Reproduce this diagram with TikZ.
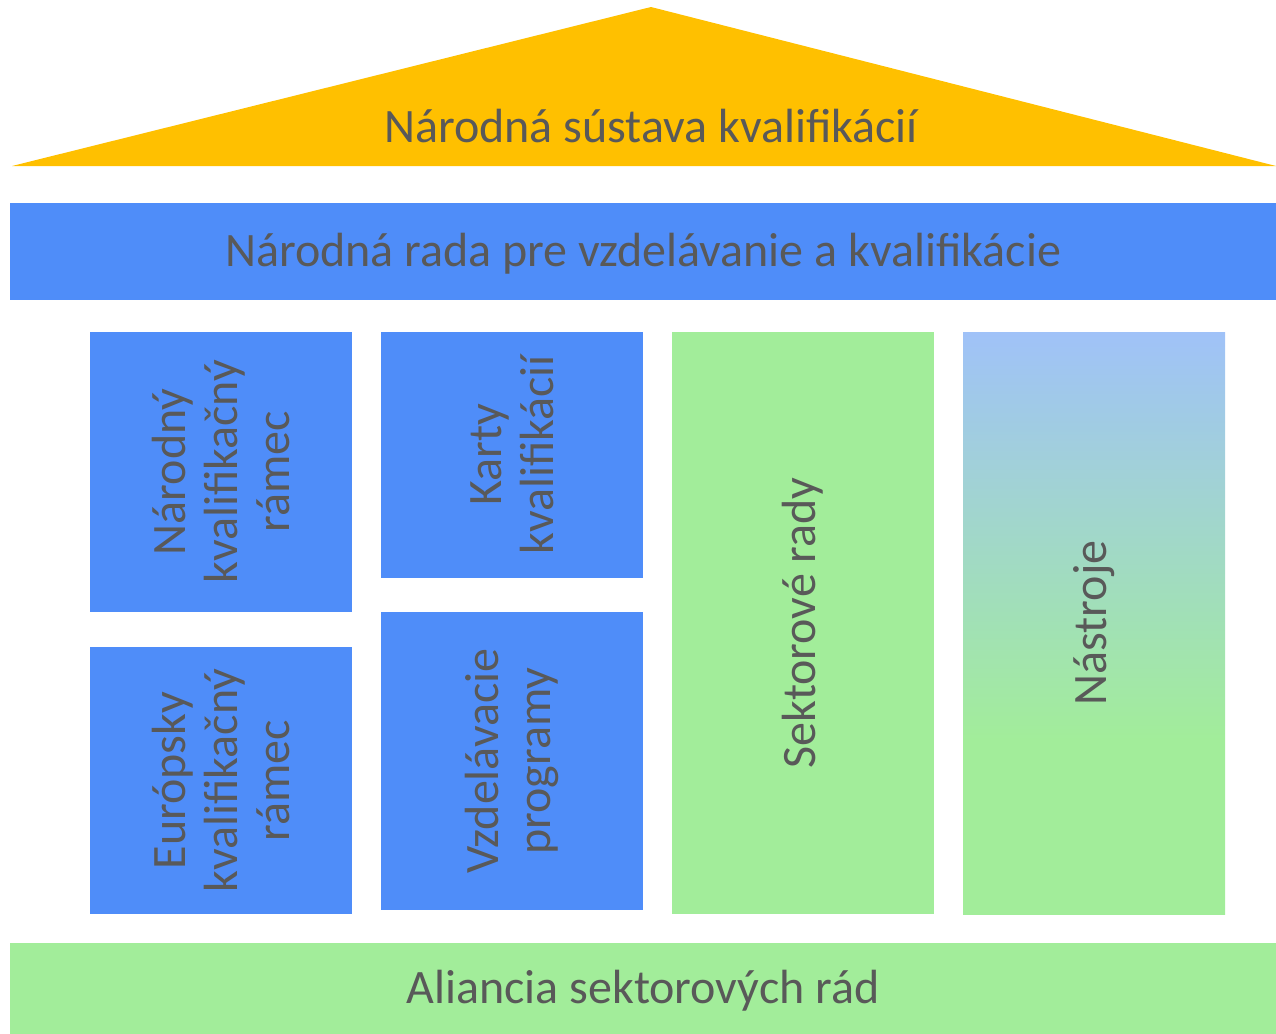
\documentclass[tikz,border=0pt]{standalone}
\usepackage{fontspec}
\setmainfont{Carlito}
\definecolor{roofyellow}{HTML}{FFC000}
\definecolor{nrblue}{HTML}{4F8DF9}
\definecolor{srgreen}{HTML}{A2ED9A}
\definecolor{toolblue}{HTML}{A0C2F8}
\definecolor{labelgray}{HTML}{595959}
\pgfdeclareverticalshading{toolshade}{100bp}{color(0bp)=(srgreen); color(40bp)=(srgreen); color(75bp)=(toolblue); color(100bp)=(toolblue)}
\tikzset{
  hbox/.style={rectangle, inner sep=0pt, text=labelgray, font=\fontsize{24}{26}\selectfont, text height=16.8pt, text depth=1.9pt},
  vbox/.style={rectangle, inner sep=0pt, text=labelgray, font=\fontsize{24}{26}\selectfont, rotate=90, align=center},
}
\begin{document}
\begin{tikzpicture}[x=0.5pt,y=-0.5pt]
            \useasboundingbox (0,0) rectangle (1276,1034);
            % strecha
            \fill [roofyellow] (12,166) -- (651,7) -- (1276,166) -- cycle;
            \node [hbox] (nsk) at (651,128) {Národná sústava kvalifikácií};
            \node [hbox, fill=nrblue, minimum width=633pt, minimum height=48.5pt] (nrvk) at (643,251.5) {Národná rada pre vzdelávanie a kvalifikácie};
            % stlpy
            \node [vbox, fill=nrblue, minimum width=140pt, minimum height=131pt] (nkr) at (221,472) {Národný\\kvalifikačný\\rámec};
            \node [vbox, fill=nrblue, minimum width=133.5pt, minimum height=131pt] (ekr) at (221,780.5) {Európsky\\kvalifikačný\\rámec};
            \node [vbox, fill=nrblue, minimum width=123pt, minimum height=131pt] (karty) at (512,455) {Karty\\kvalifikácií};
            \node [vbox, fill=nrblue, minimum width=149pt, minimum height=131pt] (vzdel) at (512,761) {Vzdelávacie\\programy};
            \node [vbox, fill=srgreen, minimum width=291pt, minimum height=131pt] (sekt) at (803,623) {Sektorové rady};
            \node [vbox, shading=toolshade, minimum width=291pt, minimum height=131pt] (nastr) at (1094,623) {Nástroje};
            % zaklad
            \node [hbox, fill=srgreen, minimum width=633pt, minimum height=46pt] (asr) at (643,988.5) {Aliancia sektorových rád};
\end{tikzpicture}
\end{document}
